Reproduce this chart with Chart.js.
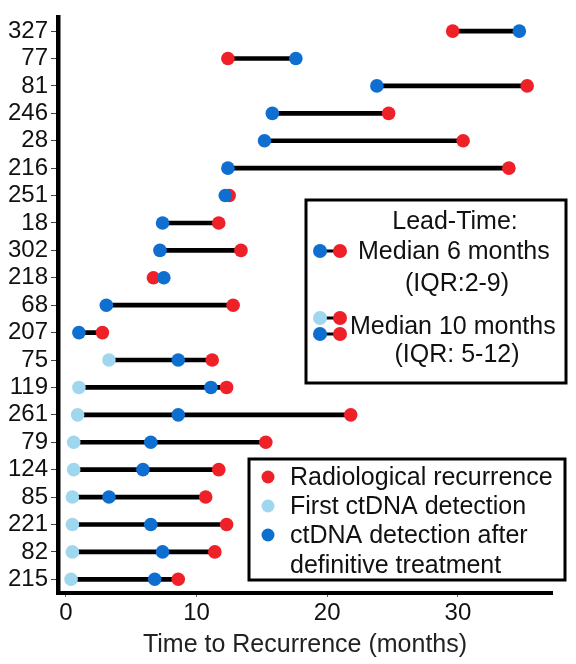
<!DOCTYPE html>
<html>
<head>
<meta charset="utf-8">
<script src="https://cdn.jsdelivr.net/npm/chart.js@4.4.1/dist/chart.umd.min.js"></script>
<style>
    body { margin: 0; background: #fff; }
    #wrap { width: 576px; height: 664px; }
</style>
</head>
<body>
<div id="wrap"><canvas id="myChart" width="576" height="664"></canvas></div>
<script>
// patient ids, top to bottom
const patients = ['327', '77', '81', '246', '28', '216', '251', '18', '302', '218', '68',
    '207', '75', '119', '261', '79', '124', '85', '221', '82', '215'];
// months
const radiological = [29.6, 12.4, 35.3, 24.7, 30.4, 33.9, 12.5, 11.7, 13.4, 6.7, 12.8,
    2.8, 11.2, 12.3, 21.8, 15.3, 11.7, 10.7, 12.3, 11.4, 8.6];
const afterTreatment = [34.7, 17.6, 23.8, 15.8, 15.2, 12.4, 12.2, 7.4, 7.2, 7.5, 3.1,
    1.0, 8.6, 11.1, 8.6, 6.5, 5.9, 3.3, 6.5, 7.4, 6.8];
const firstDetection = [null, null, null, null, null, null, null, null, null, null, null,
    null, 3.3, 1.0, 0.9, 0.6, 0.6, 0.5, 0.5, 0.5, 0.4];
const xTicks = [0, 10, 20, 30];

const RED = '#ee2128';
const BLUE = '#0f6fd0';
const LIGHT = '#9fd7ee';
const FONT = "'Liberation Sans', Arial, sans-serif";

function points(values) {
    return values.map((v, i) => ({ x: v, y: patients[i] })).filter(p => p.x !== null);
}

// connector spans from earliest to latest event of each patient
const spans = patients.map((p, i) => {
    const vals = [radiological[i], afterTreatment[i], firstDetection[i]].filter(v => v !== null);
    return [Math.min(...vals), Math.max(...vals)];
});

function dot(ctx, x, y, r, color) {
    ctx.beginPath();
    ctx.arc(x, y, r, 0, Math.PI * 2);
    ctx.fillStyle = color;
    ctx.fill();
}

function pair(ctx, x1, x2, y, c1, c2) {
    ctx.beginPath();
    ctx.moveTo(x1, y);
    ctx.lineTo(x2, y);
    ctx.lineWidth = 3;
    ctx.strokeStyle = '#000';
    ctx.stroke();
    dot(ctx, x1, y, 7, c1);
    dot(ctx, x2, y, 7, c2);
}

const legendBoxes = {
    id: 'legendBoxes',
    afterDraw(chart) {
        const ctx = chart.ctx;
        ctx.save();
        ctx.font = '25px ' + FONT;
        ctx.fillStyle = '#111';
        ctx.textBaseline = 'middle';

        // lead-time box
        ctx.fillStyle = '#fff';
        ctx.fillRect(306, 200, 260, 183);
        ctx.lineWidth = 3;
        ctx.strokeStyle = '#000';
        ctx.strokeRect(306, 200, 260, 183);
        ctx.fillStyle = '#111';
        ctx.textAlign = 'center';
        ctx.fillText('Lead-Time:', 455, 222);
        ctx.fillText('(IQR:2-9)', 457, 284);
        ctx.fillText('(IQR: 5-12)', 457, 355);
        ctx.textAlign = 'left';
        ctx.fillText('Median 6 months', 358, 252);
        ctx.fillText('Median 10 months', 350, 327);
        pair(ctx, 320, 340, 251, BLUE, RED);
        pair(ctx, 320, 340, 318, LIGHT, RED);
        pair(ctx, 320, 340, 334, BLUE, RED);

        // series box
        ctx.fillStyle = '#fff';
        ctx.fillRect(249, 459, 316, 121);
        ctx.lineWidth = 3;
        ctx.strokeRect(249, 459, 316, 121);
        const rows = [
            [RED, 'Radiological recurrence', 477],
            [LIGHT, 'First ctDNA detection', 506],
            [BLUE, 'ctDNA detection after', 535]
        ];
        rows.forEach(r => {
            dot(ctx, 268, r[2], 6.5, r[0]);
            ctx.fillStyle = '#111';
            ctx.fillText(r[1], 290, r[2] + 1);
        });
        ctx.fillText('definitive treatment', 290, 566);
        ctx.restore();
    }
};

const ctx = document.getElementById('myChart');
new Chart(ctx, {
    type: 'bar',
    data: {
        labels: patients,
        datasets: [
            {
                label: 'Radiological recurrence',
                type: 'scatter',
                data: points(radiological),
                backgroundColor: RED,
                pointRadius: 6.8,
                borderWidth: 0,
                order: 3
            },
            {
                label: 'First ctDNA detection',
                type: 'scatter',
                data: points(firstDetection),
                backgroundColor: LIGHT,
                pointRadius: 6.8,
                borderWidth: 0,
                order: 2
            },
            {
                label: 'ctDNA detection after definitive treatment',
                type: 'scatter',
                data: points(afterTreatment),
                backgroundColor: BLUE,
                pointRadius: 6.8,
                borderWidth: 0,
                order: 1
            },
            {
                label: 'Lead time',
                type: 'bar',
                indexAxis: 'y',
                data: spans,
                backgroundColor: '#000',
                barThickness: 4,
                borderSkipped: false,
                order: 10
            }
        ]
    },
    options: {
        responsive: false,
        animation: false,
        layout: { padding: { top: 15, right: 24, left: 0, bottom: 0 } },
        plugins: {
            legend: { display: false },
            tooltip: { enabled: false }
        },
        scales: {
            x: {
                type: 'linear',
                offset: false,
                min: -0.6,
                max: 37.2,
                afterBuildTicks: s => { s.ticks = xTicks.map(v => ({ value: v })); },
                afterFit: s => { s.height = 71; },
                border: { color: '#000', width: 4 },
                grid: { display: true, offset: false, drawOnChartArea: false, tickLength: 4, tickColor: '#666' },
                ticks: { color: '#111', padding: 2, font: { family: FONT, size: 24 } },
                title: {
                    display: true,
                    text: 'Time to Recurrence (months)',
                    color: '#222',
                    padding: { top: 0, bottom: 4 },
                    font: { family: FONT, size: 25 }
                }
            },
            y: {
                type: 'category',
                offset: true,
                afterFit: s => { s.width = 58; },
                border: { color: '#000', width: 4.5 },
                grid: { display: true, drawOnChartArea: false, tickLength: 7, tickColor: '#444', offset: false },
                ticks: { color: '#111', padding: 3, autoSkip: false, font: { family: FONT, size: 24 } }
            }
        }
    },
    plugins: [legendBoxes]
});
</script>
</body>
</html>
